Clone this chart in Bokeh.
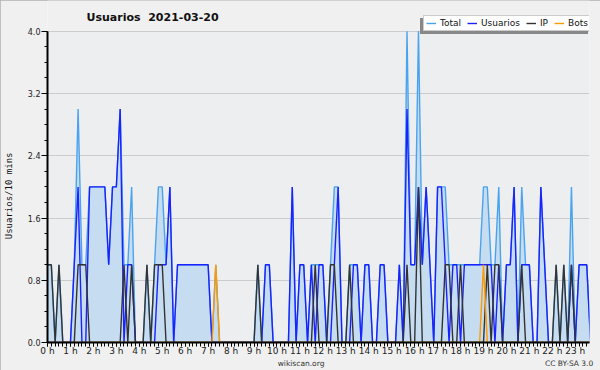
from bokeh.plotting import figure
from bokeh.models import (FixedTicker, Legend, LegendItem, LinearAxis, Range1d,
                          Label, BoxAnnotation)
from bokeh.embed import file_html
from bokeh.resources import INLINE

# ---- data (10-minute slots) ----
slots = [i / 6 for i in range(144)]  # hour of day for each 10-min slot

usuarios = [0, 0, 0, 0, 0, 0, 0, 1, 2, 0,
            0, 2, 2, 2, 2, 2, 1, 2, 2, 3,
            0, 1, 1, 0, 0, 0, 0, 0, 0, 1,
            1, 1, 2, 0, 1, 1, 1, 1, 1, 1,
            1, 1, 1, 0, 0, 0, 0, 0, 0, 0,
            0, 0, 0, 0, 0, 0, 0, 1, 1, 0,
            0, 0, 0, 0, 2, 0, 1, 1, 0, 1,
            0, 1, 1, 0, 0, 1, 2, 0, 0, 0,
            1, 1, 0, 1, 1, 0, 0, 1, 1, 0,
            0, 0, 1, 0, 3, 1, 1, 2, 1, 2,
            1, 0, 2, 2, 1, 0, 1, 1, 0, 1,
            1, 1, 1, 1, 1, 1, 1, 0, 1, 0,
            1, 1, 2, 0, 1, 1, 1, 0, 0, 2,
            1, 0, 0, 0, 0, 0, 0, 1, 0, 1,
            1, 1, 0, 0]

ip = [1, 1, 0, 1, 0, 0, 0, 0, 1, 1,
      1, 0, 0, 0, 0, 0, 0, 0, 0, 0,
      1, 0, 1, 0, 0, 0, 1, 0, 1, 1,
      1, 0, 0, 0, 0, 0, 0, 0, 0, 0,
      0, 0, 0, 0, 0, 0, 0, 0, 0, 0,
      0, 0, 0, 0, 0, 1, 0, 0, 0, 0,
      0, 0, 0, 0, 0, 0, 0, 0, 0, 0,
      1, 0, 0, 0, 1, 1, 0, 0, 0, 1,
      0, 0, 0, 0, 0, 0, 0, 0, 0, 0,
      0, 0, 0, 0, 1, 0, 0, 2, 0, 0,
      0, 0, 0, 0, 1, 1, 0, 0, 1, 0,
      0, 0, 0, 0, 0, 1, 0, 1, 1, 0,
      0, 0, 0, 0, 1, 0, 0, 0, 0, 0,
      0, 0, 0, 1, 0, 1, 0, 1, 0, 0,
      0, 0, 0, 0]

bots = [0] * 44 + [1] + [0] * 69 + [1] + [0] * 29

total = [1, 1, 0, 1, 0, 0, 0, 1, 3, 1,
         1, 2, 2, 2, 2, 2, 1, 2, 2, 3,
         1, 1, 2, 0, 0, 0, 1, 0, 1, 2,
         2, 1, 2, 0, 1, 1, 1, 1, 1, 1,
         1, 1, 1, 0, 1, 0, 0, 0, 0, 0,
         0, 0, 0, 0, 0, 1, 0, 1, 1, 0,
         0, 0, 0, 0, 2, 0, 1, 1, 0, 1,
         1, 1, 1, 0, 1, 2, 2, 0, 0, 1,
         1, 1, 0, 1, 1, 0, 0, 1, 1, 0,
         0, 0, 1, 0, 4, 1, 1, 4, 1, 2,
         1, 0, 2, 2, 2, 1, 1, 1, 1, 1,
         1, 1, 1, 1, 2, 2, 1, 1, 2, 0,
         1, 1, 2, 0, 2, 1, 1, 0, 0, 2,
         1, 0, 0, 1, 0, 1, 0, 2, 0, 1,
         1, 1, 0, 0]

hour_ticks = list(range(24))
hour_labels = {h: f"{h} h" for h in hour_ticks}
y_ticks = [0.0, 0.8, 1.6, 2.4, 3.2, 4.0]

title_text = "Usuarios\u00a0 2021-03-20"
series_names = ["Total", "Usuarios", "IP", "Bots"]
footer_texts = {11.05: "wikiscan.org", 22.73: "CC BY-SA 3.0"}

Y_MAX = y_ticks[-1]
X_END = 23.62
# the frame reaches up to the top of the canvas so that title and legend can sit there
p = figure(width=600, height=370, output_backend="svg", toolbar_location=None,
           x_range=Range1d(0, X_END), y_range=Range1d(0, Y_MAX * 344 / 313),
           min_border_left=46, min_border_right=11, min_border_top=0, min_border_bottom=26,
           background_fill_color="#f0f0f0", border_fill_color="#f0f0f0",
           outline_line_color=None,
           styles={"outline": "1px solid #b0b0b0", "outline-offset": "-1px"})

# plot-area background only up to the top value of the axis
p.add_layout(BoxAnnotation(bottom=0, top=Y_MAX, fill_color="#eceef0", fill_alpha=1,
                           line_color=None, level="image"))

col_total = "#4aa3ee"
col_fill = "#c6dcf0"
col_user = "#1a22ff"
col_ip = "#333333"
col_bots = "#ff9900"

p.varea(x=slots, y1=[0] * len(slots), y2=total, fill_color=col_fill)
r_total = p.line(slots, total, line_color=col_total, line_width=1.4)
r_user = p.line(slots, usuarios, line_color=col_user, line_width=1.4)
r_ip = p.line(slots, ip, line_color=col_ip, line_width=1.4)
r_bots = p.line(slots, bots, line_color=col_bots, line_width=1.4)

# axes
p.xaxis.ticker = FixedTicker(ticks=hour_ticks, minor_ticks=[k / 6 for k in range(142)])
p.xaxis.major_label_overrides = hour_labels
p.xaxis.major_label_text_font = "DejaVu Sans"
p.xaxis.major_label_text_font_size = "9px"
p.xaxis.major_label_text_color = "#222222"
p.xaxis.major_tick_out = 4
p.xaxis.major_tick_in = 0
p.xaxis.minor_tick_out = 4
p.xaxis.minor_tick_in = 0
p.xaxis.major_label_standoff = -1
p.xaxis.axis_line_width = 2
p.xaxis.axis_line_color = "black"

p.yaxis.bounds = (0, Y_MAX)
p.yaxis.ticker = FixedTicker(ticks=y_ticks, minor_ticks=[k * 0.2 for k in range(21)])
p.yaxis.major_label_overrides = {t: f"{t:.1f}" for t in y_ticks}
p.yaxis.major_label_text_font = "DejaVu Sans"
p.yaxis.major_label_text_font_size = "8px"
p.yaxis.major_label_text_color = "#222222"
p.yaxis.major_tick_out = 6
p.yaxis.major_tick_in = 0
p.yaxis.minor_tick_out = 3
p.yaxis.minor_tick_in = 0
p.yaxis.major_label_standoff = 1
p.yaxis.axis_line_width = 2
p.yaxis.axis_line_color = "black"
# trailing no-break spaces move the centred label down to the plot's middle
p.yaxis.axis_label = "Usuarios/10 mins" + "\u00a0" * 9
p.yaxis.axis_label_text_font = "DejaVu Sans Mono"
p.yaxis.axis_label_text_font_size = "9px"
p.yaxis.axis_label_text_font_style = "normal"
p.yaxis.axis_label_text_color = "#111111"
p.yaxis.axis_label_standoff = 11

p.xgrid.grid_line_color = None
p.ygrid.grid_line_color = "#cccccc"
p.ygrid.grid_line_width = 1

# title inside the (extended) frame
p.add_layout(Label(x=1.70, y=Y_MAX * 1.043, text=title_text, text_align="left",
                   text_baseline="alphabetic", text_font="DejaVu Sans",
                   text_font_size="11px", text_font_style="bold", text_color="#111111"))

# footer texts as a bare extra axis below the time axis
foot = LinearAxis(ticker=FixedTicker(ticks=list(footer_texts.keys()), minor_ticks=[]),
                  major_label_overrides=footer_texts,
                  axis_line_color=None, major_tick_line_color=None,
                  minor_tick_line_color=None, major_tick_out=0, major_tick_in=0,
                  major_label_standoff=0,
                  major_label_text_font="DejaVu Sans", major_label_text_font_size="7.5px",
                  major_label_text_color="#333333")
p.add_layout(foot, "below")

# legend with a drop shadow (a grey copy underneath, shifted left and down)
dummies = [p.line([], [], line_alpha=0) for _ in series_names]
legend_style = dict(orientation="horizontal", label_text_font="DejaVu Sans",
                    label_text_font_size="9px", glyph_width=10, glyph_height=8,
                    label_width=5, label_height=10, label_standoff=4, spacing=6,
                    padding=2, margin=0)
shadow = Legend(items=[LegendItem(label=n, renderers=[d]) for n, d in zip(series_names, dummies)],
                location=(373, 308.5), background_fill_color="#888888", background_fill_alpha=1,
                border_line_color="#888888", label_text_alpha=0, **legend_style)
p.add_layout(shadow)

legend = Legend(items=[LegendItem(label=n, renderers=[r]) for n, r in
                       zip(series_names, [r_total, r_user, r_ip, r_bots])],
                location=(376, 311.5), background_fill_color="white", background_fill_alpha=1,
                border_line_color="#999999", label_text_color="#111111", **legend_style)
p.add_layout(legend)

open("out.html", "w").write(file_html(p, INLINE))
